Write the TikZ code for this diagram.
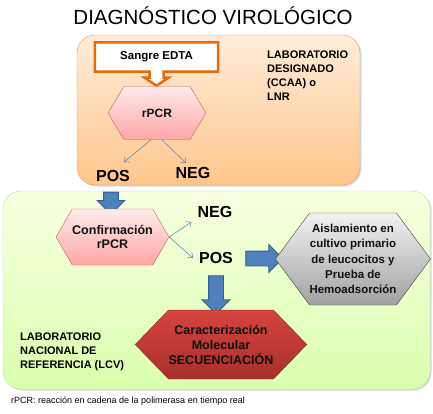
\documentclass[tikz,border=0pt]{standalone}
\usepackage{fontspec}
\setmainfont{Liberation Sans}
\usetikzlibrary{positioning,shapes.symbols,shapes.arrows,arrows.meta,shadows}
\definecolor{naranja}{HTML}{F79646}
\definecolor{naranjaosc}{HTML}{E46C0A}
\definecolor{azul}{HTML}{4F81BD}
\definecolor{azulosc}{HTML}{385D8A}
\definecolor{rojoalto}{HTML}{D6443F}
\definecolor{rojobajo}{HTML}{A82F2C}
\definecolor{tinta}{HTML}{101010}
\tikzset{
  caja/.style={draw, rounded corners=18pt, drop shadow={shadow xshift=1.5pt,shadow yshift=-1.5pt,opacity=0.3}},
  hexa/.style={signal, signal to=east and west, draw, inner sep=0pt, align=center, text=tinta, font=\bfseries\fontsize{12}{15}\selectfont},
  flecha/.style={single arrow, draw=azulosc, fill=azul, line width=0.8pt, inner sep=7pt, minimum width=0pt, single arrow head extend=6.5pt},
  fina/.style={draw=azul, line width=0.5pt, -{Straight Barb[length=4pt,width=7pt]}},
  etiq/.style={font=\bfseries\fontsize{16}{16}\selectfont, inner sep=1pt},
  lab/.style={font=\bfseries\fontsize{11}{14}\selectfont, align=left, anchor=north west, inner sep=0pt}
}

\begin{document}
\begin{tikzpicture}[x=1pt,y=-1pt]
\useasboundingbox (0,0) rectangle (433,413);

\node (titulo) at (213,15.5) {\fontsize{20.5}{20.5}\selectfont DIAGNÓSTICO VIROLÓGICO};

% cajas de laboratorio
\node[caja, draw=naranja, top color=orange!15, bottom color=orange!45!white,
      minimum width=283pt, minimum height=150pt] (desig) at (218.5,110) {};
\node[caja, draw=green!45!olive!40, top color=green!25!yellow!12, bottom color=green!45!yellow!32,
      minimum width=427pt, minimum height=198pt] (lnr) at (216.5,290) {};

\node[lab] (txtdesig) at (267,51) {LABORATORIO\\DESIGNADO\\(CCAA) o\\LNR};
\node[lab] (txtlnr) at (20,333) {LABORATORIO\\NACIONAL DE\\REFERENCIA (LCV)};

% muestra
\node[minimum width=123pt, minimum height=29pt, font=\bfseries\fontsize{11.5}{12}\selectfont] (sangre) at (156.5,57) {Sangre EDTA};
\draw[naranjaosc, line width=2.5pt, fill=white] (sangre.north west) -- (sangre.north east) -- (sangre.south east)
  -- ([xshift=7pt]sangre.south) -- ++(0,6) -- ++(5,0) -- ++(-12,8) -- ++(-12,-8) -- ++(5,0) -- ++(0,-6)
  -- (sangre.south west) -- cycle;
\node[font=\bfseries\fontsize{11.5}{12}\selectfont] at (sangre) {Sangre EDTA};

\node[hexa, draw=red!55!black!60, top color=red!8, bottom color=red!35,
      minimum width=98pt, minimum height=53pt, signal pointer angle=118] (rpcr) at (157,113) {rPCR};
\node[etiq] (pos1) at (113,176) {POS};
\node[etiq] (neg1) at (193,173) {NEG};
\draw[fina] ([xshift=-6pt]rpcr.south) -- ([xshift=11pt,yshift=7pt]pos1.north);
\draw[fina] ([xshift=5pt]rpcr.south) -- ([xshift=-7pt,yshift=3pt]neg1.north);

% confirmacion
\node[flecha, shape border rotate=270, minimum height=18pt] (f1) at (111,199.5) {};
\node[hexa, draw=red!55!black!60, top color=red!8, bottom color=red!35,
      minimum width=103pt, minimum height=56pt, signal pointer angle=120,
      font=\bfseries\fontsize{12.5}{14}\selectfont] (conf) at (112.5,237) {Confirmación\\rPCR};
\node[etiq] (neg2) at (215,212) {NEG};
\node[etiq] (pos2) at (216,258) {POS};
\draw[fina] (conf.east) -- ([xshift=-5pt,yshift=-10pt]neg2.west);
\draw[fina] (conf.east) -- ([xshift=-5pt]pos2.west);

\node[flecha, minimum height=37pt] (f2) at (260.5,258.5) {};
\node[flecha, shape border rotate=270, minimum height=38pt] (f3) at (216,291) {};

\node[hexa, draw=black!75, top color=black!5, bottom color=black!37,
      minimum width=134pt, minimum height=92pt, signal pointer angle=107,
      font=\bfseries\fontsize{11.5}{15.3}\selectfont] (aisla) at (353,259)
  {Aislamiento en\\cultivo primario\\de leucocitos y\\Prueba de\\Hemoadsorción};
\node[hexa, draw=rojobajo!80!black, top color=rojoalto, bottom color=rojobajo,
      minimum width=162pt, minimum height=69pt, signal pointer angle=92,
      font=\bfseries\fontsize{12.5}{15}\selectfont] (secuen) at (221,344.5)
  {Caracterización\\Molecular\\SECUENCIACIÓN};

\node[anchor=west, inner sep=0pt, font=\fontsize{9}{9}\selectfont] (nota) at (11,401)
  {rPCR: reacción en cadena de la polimerasa en tiempo real};
\end{tikzpicture}
\end{document}
